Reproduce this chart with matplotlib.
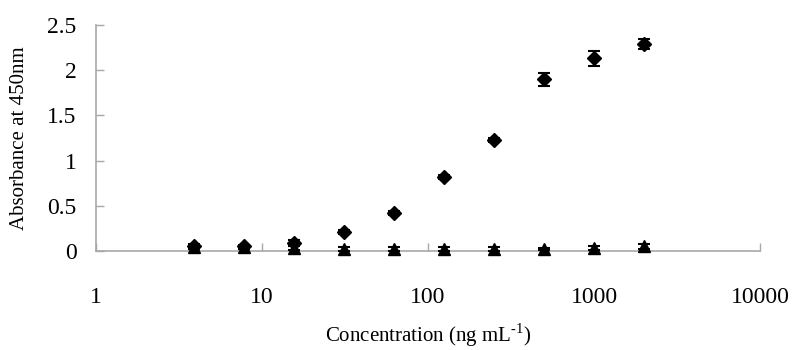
import matplotlib
matplotlib.use("Agg")
import matplotlib.pyplot as plt
from matplotlib.ticker import FixedLocator, FixedFormatter, NullLocator

plt.rcParams['font.family'] = ['Liberation Serif', 'DejaVu Serif']
plt.rcParams['mathtext.fontset'] = 'custom'
plt.rcParams['mathtext.rm'] = 'Liberation Serif'

conc = [3.9, 7.8, 15.6, 31.25, 62.5, 125, 250, 500, 1000, 2000]
s1 = [0.05, 0.05, 0.09, 0.21, 0.42, 0.82, 1.23, 1.90, 2.13, 2.29]
s1_err = [0.03, 0.02, 0.03, 0.02, 0.02, 0.02, 0.02, 0.07, 0.08, 0.05]
s2 = [0.04, 0.04, 0.03, 0.02, 0.02, 0.02, 0.02, 0.02, 0.03, 0.05]
s2_err = [0.02, 0.02, 0.02, 0.02, 0.02, 0.02, 0.02, 0.01, 0.02, 0.03]

x_ticks = [1, 10, 100, 1000, 10000]
x_labels = ['1', '10', '100', '1000', '10000']
y_ticks = [0, 0.5, 1, 1.5, 2, 2.5]
y_labels = ['0', '0.5', '1', '1.5', '2', '2.5']

fig = plt.figure(figsize=(7.94, 3.5), dpi=100)
ax = fig.add_axes([96/794, 1-251/350, (760-96)/794, (251-25)/350])

e2 = ax.errorbar(conc, s2, yerr=s2_err, fmt='^', color='black', markersize=9,
                 capsize=4, elinewidth=1.5, capthick=1.5, zorder=3)
e1 = ax.errorbar(conc, s1, yerr=s1_err, fmt='D', color='black', markersize=7,
                 capsize=4.5, elinewidth=1.5, capthick=1.5, zorder=4)
for cont in (e1, e2):
    for art in cont.get_children():
        art.set_clip_on(False)

ax.set_xscale('log')
ax.set_xlim(1, 10000)
ax.set_ylim(0, 2.5)
ax.xaxis.set_major_locator(FixedLocator(x_ticks))
ax.xaxis.set_major_formatter(FixedFormatter(x_labels))
ax.xaxis.set_minor_locator(NullLocator())
ax.yaxis.set_major_locator(FixedLocator(y_ticks))
ax.yaxis.set_major_formatter(FixedFormatter(y_labels))

for side in ['top', 'right']:
    ax.spines[side].set_visible(False)
for side in ['left', 'bottom']:
    ax.spines[side].set_color('#a8a8a8')
    ax.spines[side].set_linewidth(1.2)
    ax.spines[side].set_zorder(1)

ax.tick_params(axis='y', direction='in', length=6, width=1, color='#a8a8a8',
               labelsize=17, pad=14)
ax.tick_params(axis='x', direction='in', length=6, width=1, color='#a8a8a8',
               labelsize=17, pad=26)

ax.set_ylabel('Absorbance at 450nm', fontsize=15)
ax.set_xlabel(r'Concentration (ng mL$^{\text{-1}}$)', fontsize=15)
ax.yaxis.set_label_coords((20-96)/664, 0.5)
ax.yaxis.label.set_va('center')
ax.xaxis.set_label_coords(0.5, (251-335)/226)
ax.xaxis.label.set_va('center')

fig.savefig('out.png', dpi=100)
